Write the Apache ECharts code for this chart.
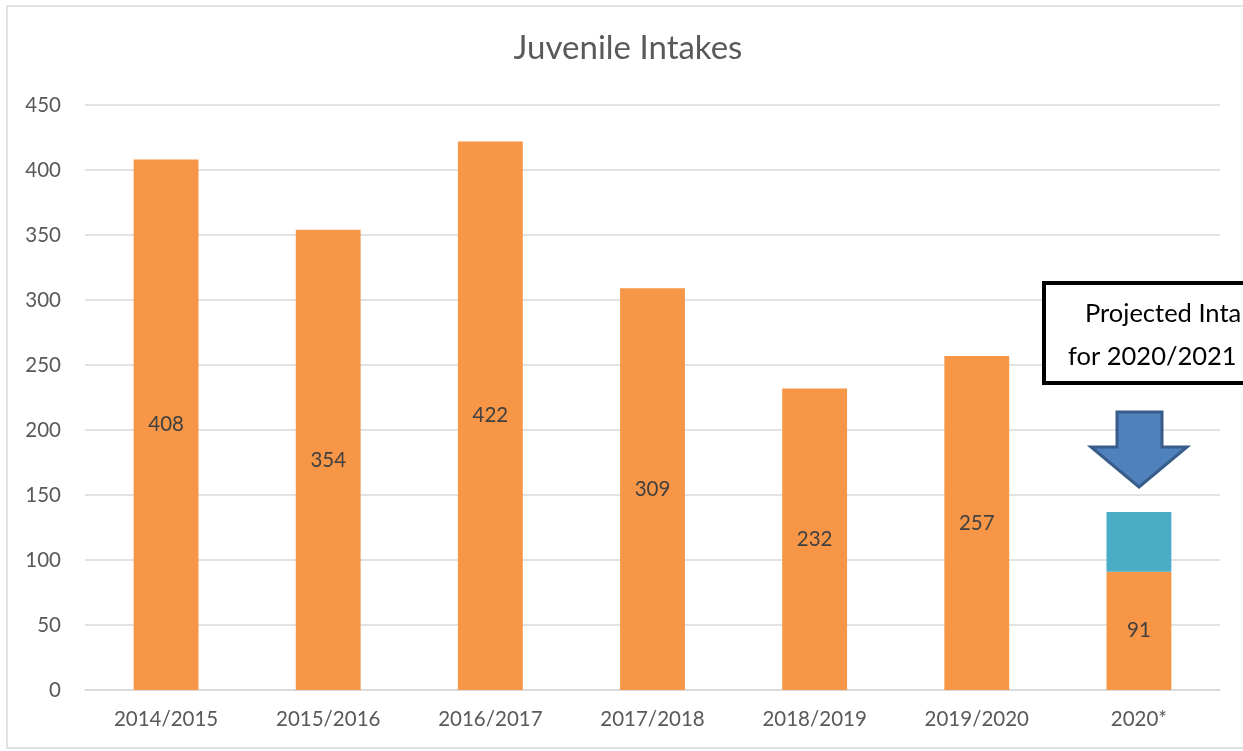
<!DOCTYPE html>
<html><head><meta charset="utf-8">
<script src="https://cdn.jsdelivr.net/npm/echarts@6/dist/echarts.min.js"></script>
<style>html,body{margin:0;padding:0;background:#fff}#c{width:1243px;height:751px}</style>
</head><body><div id="c"></div>
<script>
const categories = ['2014/2015','2015/2016','2016/2017','2017/2018','2018/2019','2019/2020','2020*'];
const intakes = [408, 354, 422, 309, 232, 257, 91];
const projectedExtra = [null, null, null, null, null, null, 46];
const yTicks = {min: 0, max: 450, interval: 50};

const chart = echarts.init(document.getElementById('c'), null, {renderer: 'canvas'});
const font = 'Lato, "Open Sans", sans-serif';
chart.setOption({
  animation: false,
  backgroundColor: '#fff',
  title: {text: 'Juvenile Intakes', left: 623, top: 27, textAlign: 'center',
    textStyle: {fontFamily: font, fontSize: 33, fontWeight: 'normal', color: '#595959'}},
  grid: {left: 85, right: 23, top: 105, bottom: 61, containLabel: false},
  xAxis: {type: 'category', data: categories,
    axisLine: {lineStyle: {color: '#d9d9d9', width: 1.5}},
    axisTick: {show: false},
    axisLabel: {fontFamily: font, fontSize: 20.5, color: '#595959', margin: 19}},
  yAxis: {type: 'value', min: yTicks.min, max: yTicks.max, interval: yTicks.interval,
    axisLine: {show: false}, axisTick: {show: false},
    splitLine: {lineStyle: {color: '#d9d9d9', width: 1.5}},
    axisLabel: {fontFamily: font, fontSize: 20.5, color: '#595959', margin: 24}},
  series: [
    {type: 'bar', stack: 's', data: intakes, barWidth: '40%',
      itemStyle: {color: '#F79646'},
      label: {show: true, position: 'inside', fontFamily: font, fontSize: 20.5, color: '#404040'}},
    {type: 'bar', stack: 's', data: projectedExtra, barWidth: '40%',
      itemStyle: {color: '#4BACC6'}}
  ],
  graphic: [
    {type: 'rect', shape: {x: 7, y: 6, width: 1300, height: 742}, style: {fill: 'none', stroke: '#d9d9d9', lineWidth: 1.5}, z: -1},
    {type: 'rect', shape: {x: 1044, y: 283, width: 260, height: 100}, style: {fill: '#fff', stroke: '#000', lineWidth: 4}, z: 100},
    {type: 'text', style: {x: 1085, y: 314, text: 'Projected Intakes', fontFamily: font, fontSize: 25.5, fill: '#000', textVerticalAlign: 'middle'}, z: 101},
    {type: 'text', style: {x: 1068, y: 357, text: 'for 2020/2021', fontFamily: font, fontSize: 25.5, fill: '#000', textVerticalAlign: 'middle'}, z: 101},
    {type: 'polygon', shape: {points: [[1117,412],[1162,412],[1162,447],[1187,447],[1139,487],[1091,447],[1117,447]]},
      style: {fill: '#4F81BD', stroke: '#385D8A', lineWidth: 3}, z: 100}
  ]
});
</script></body></html>
